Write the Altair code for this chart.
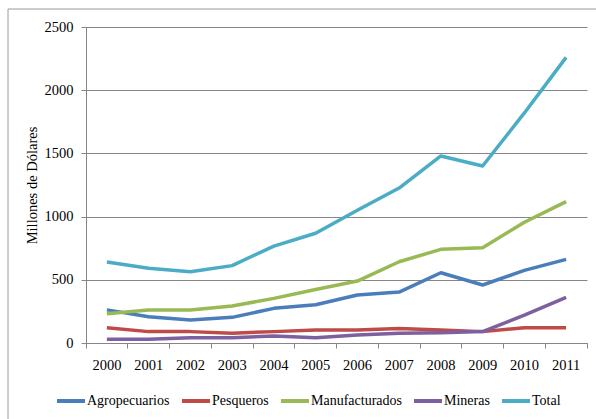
import altair as alt
import pandas as pd

years = [str(y) for y in range(2000, 2012)]
series_names = ["Agropecuarios", "Pesqueros", "Manufacturados", "Mineras", "Total"]
agropecuarios = [262, 208, 182, 203, 274, 302, 380, 403, 556, 459, 575, 662]
pesqueros = [121, 90, 90, 78, 90, 102, 103, 114, 103, 90, 121, 120]
manufacturados = [232, 261, 261, 293, 353, 423, 490, 643, 741, 754, 955, 1118]
mineras = [29, 30, 42, 42, 55, 42, 63, 77, 82, 90, 221, 361]
total = [641, 591, 564, 612, 767, 868, 1050, 1226, 1480, 1400, 1820, 2260]
colors = ["#4A7EBB", "#BE4B48", "#98B954", "#7D60A0", "#4BACC6"]

rows = []
for name, vals in zip(series_names, [agropecuarios, pesqueros, manufacturados, mineras, total]):
    for y, v in zip(years, vals):
        rows.append({"Año": y, "Serie": name, "Valor": v})
df = pd.DataFrame(rows)

FONT = "Liberation Serif"
GRID = "#868686"

lines = alt.Chart(df).mark_line(strokeWidth=3.5, strokeJoin="round").encode(
    x=alt.X("Año:O", title=None,
            scale=alt.Scale(type="band", paddingInner=0, paddingOuter=0),
            axis=alt.Axis(labelAngle=0, bandPosition=1, tickExtra=True, tickSize=5,
                          tickColor=GRID, domainColor=GRID, labelPadding=10,
                          labelFont=FONT, labelFontSize=14.5, labelColor="black",
                          grid=False)),
    y=alt.Y("Valor:Q", title="Millones de Dólares",
            scale=alt.Scale(domain=[0, 2500], nice=False),
            axis=alt.Axis(values=[0, 500, 1000, 1500, 2000, 2500], format="d",
                          tickSize=5,
                          tickColor=GRID, domainColor=GRID, gridColor=GRID,
                          labelPadding=8, labelFont=FONT, labelFontSize=14.5,
                          labelColor="black", titleFont=FONT, titleFontSize=14.5,
                          titleFontWeight="normal", titleColor="black",
                          titlePadding=5)),
    color=alt.Color("Serie:N", title=None,
                    scale=alt.Scale(domain=series_names, range=colors),
                    sort=series_names,
                    legend=alt.Legend(orient="none", legendX=-31, legendY=358,
                                      direction="horizontal", symbolType="stroke",
                                      symbolSize=784, symbolStrokeWidth=4,
                                      labelFont=FONT, labelFontSize=14,
                                      labelColor="black", columnPadding=4,
                                      labelOffset=0)),
)

frame = alt.Chart(pd.DataFrame({"a": [0]})).mark_rect(
    fill="transparent", stroke="#9a9a9a", strokeWidth=1
).encode(x=alt.value(-78), x2=alt.value(560), y=alt.value(-18), y2=alt.value(420))

chart = alt.layer(frame, lines).properties(
    width=501, height=316,
    autosize=alt.AutoSizeParams(type="none"),
    padding={"left": 86, "top": 27, "right": 9, "bottom": 76},
).configure_view(stroke=None)

chart.save("out.html", embed_options={"renderer": "svg", "actions": False})
